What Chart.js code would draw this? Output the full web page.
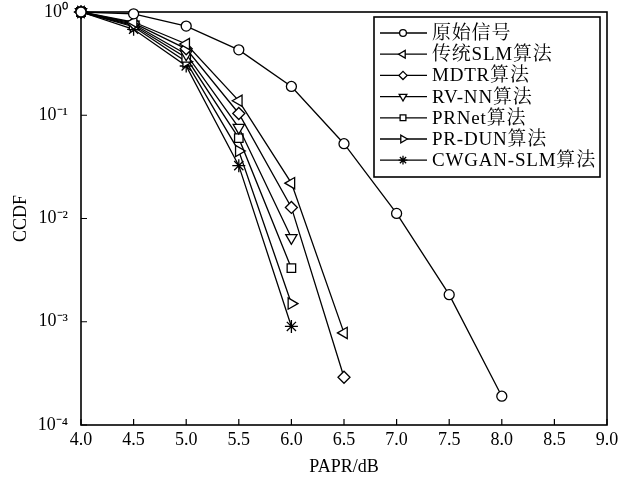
<!DOCTYPE html>
<html>
<head>
<meta charset="utf-8">
<script src="https://cdn.jsdelivr.net/npm/chart.js@4/dist/chart.umd.min.js"></script>
<style>
  body { margin: 0; background: #fff; }
</style>
</head>
<body>
<canvas id="ccdf" width="626" height="480"></canvas>
<script>
// PAPR (dB) points and CCDF values
var papr = [4.0, 4.5, 5.0, 5.5, 6.0, 6.5, 7.0, 7.5, 8.0];
var names = ['原始信号', '传统SLM算法', 'MDTR算法', 'RV-NN算法', 'PRNet算法', 'PR-DUN算法', 'CWGAN-SLM算法'];
var original = [1.0, 0.96, 0.73, 0.43, 0.19, 0.053, 0.0112, 0.00183, 0.00019];
var slm      = [1.0, 0.80, 0.49, 0.138, 0.022, 0.00078];
var mdtr     = [1.0, 0.78, 0.44, 0.104, 0.0128, 0.00029];
var rvnn     = [1.0, 0.76, 0.39, 0.076, 0.0065];
var prnet    = [1.0, 0.74, 0.36, 0.060, 0.0033];
var prdun    = [1.0, 0.72, 0.33, 0.045, 0.0015];
var cwgan    = [1.0, 0.68, 0.30, 0.0325, 0.0009];
var xTicks = [4.0, 4.5, 5.0, 5.5, 6.0, 6.5, 7.0, 7.5, 8.0, 8.5, 9.0];
var yTicks = [1e-4, 1e-3, 1e-2, 1e-1, 1];

var serif = "'Liberation Serif', 'Noto Serif CJK SC', 'Noto Sans CJK SC', serif";
var allSeries = [original, slm, mdtr, rvnn, prnet, prdun, cwgan];
var markers = [
  { style: 'circle',   rot: 0,   r: 5 },
  { style: 'triangle', rot: 270, r: 6.5 },
  { style: 'rectRot',  rot: 0,   r: 6 },
  { style: 'triangle', rot: 180, r: 6.5 },
  { style: 'rect',     rot: 0,   r: 6 },
  { style: 'triangle', rot: 90,  r: 6.5 },
  { style: 'star',     rot: 0,   r: 6.5 }
];

var sup = { '0': '⁰', '1': '¹', '2': '²', '3': '³', '4': '⁴', '-': '⁻' };
function powLabel(v) {
  var e = String(Math.round(Math.log10(v)));
  return '10' + e.split('').map(function (c) { return sup[c]; }).join('');
}

var datasets = allSeries.map(function (vals, i) {
  return {
    label: names[i],
    data: vals.map(function (v, j) { return { x: papr[j], y: v }; }),
    borderColor: '#000',
    borderWidth: 1.3,
    backgroundColor: '#fff',
    pointStyle: markers[i].style,
    pointRotation: markers[i].rot,
    pointRadius: markers[i].r,
    pointBorderWidth: 1.3,
    pointBorderColor: '#000',
    pointBackgroundColor: '#fff',
    tension: 0,
    fill: false,
    clip: false
  };
});

var frameLegend = {
  id: 'frameLegend',
  beforeDatasetsDraw: function (chart) {
    var ctx = chart.ctx, a = chart.chartArea;
    var xs = chart.scales.x, ys = chart.scales.y;
    ctx.save();
    ctx.strokeStyle = '#000';
    ctx.lineWidth = 1.6;
    ctx.strokeRect(a.left, a.top, a.right - a.left, a.bottom - a.top);
    ctx.lineWidth = 1.2;
    ctx.beginPath();
    xTicks.forEach(function (v) {
      var px = xs.getPixelForValue(v);
      ctx.moveTo(px, a.bottom);
      ctx.lineTo(px, a.bottom - 6);
    });
    yTicks.forEach(function (v) {
      var py = ys.getPixelForValue(v);
      ctx.moveTo(a.left, py);
      ctx.lineTo(a.left + 6, py);
    });
    ctx.stroke();
    ctx.restore();
  },
  afterDraw: function (chart) {
    var ctx = chart.ctx, a = chart.chartArea;
    var boxR = a.right - 7, boxT = a.top + 5, boxL = 374, boxB = 177;
    ctx.save();
    ctx.fillStyle = '#fff';
    ctx.fillRect(boxL, boxT, boxR - boxL, boxB - boxT);
    ctx.strokeStyle = '#000';
    ctx.lineWidth = 1.6;
    ctx.strokeRect(boxL, boxT, boxR - boxL, boxB - boxT);
    ctx.font = '19px ' + serif;
    if ('letterSpacing' in ctx) ctx.letterSpacing = '0.8px';
    ctx.textBaseline = 'middle';
    names.forEach(function (name, i) {
      var y = 33 + i * 21.2;
      ctx.lineWidth = 1.3;
      ctx.beginPath();
      ctx.moveTo(380, y);
      ctx.lineTo(427, y);
      ctx.stroke();
      ctx.fillStyle = '#fff';
      Chart.helpers.drawPoint(ctx, {
        pointStyle: markers[i].style,
        rotation: markers[i].rot,
        radius: markers[i].r * 0.68,
        borderWidth: 1.2
      }, 403, y);
      ctx.fillStyle = '#000';
      ctx.fillText(name, 432, y + 1);
    });
    ctx.restore();
  }
};

new Chart(document.getElementById('ccdf'), {
  type: 'line',
  data: { datasets: datasets },
  options: {
    responsive: false,
    animation: false,
    layout: { autoPadding: false, padding: { left: 0, top: 12, right: 19, bottom: 0 } },
    plugins: { legend: { display: false }, tooltip: { enabled: false } },
    scales: {
      x: {
        type: 'linear',
        min: 4,
        max: 9,
        afterBuildTicks: function (s) { s.ticks = xTicks.map(function (v) { return { value: v }; }); },
        afterFit: function (s) { s.height = 55; s.paddingLeft = 0; s.paddingRight = 0; },
        grid: { display: false, drawTicks: false },
        border: { display: false },
        ticks: {
          padding: 4,
          color: '#000',
          font: { family: serif, size: 18 },
          maxRotation: 0,
          callback: function (v) { return v.toFixed(1); }
        },
        title: {
          display: true,
          text: 'PAPR/dB',
          color: '#000',
          font: { family: serif, size: 18 },
          padding: { top: 0, bottom: 2 }
        }
      },
      y: {
        type: 'logarithmic',
        min: 1e-4,
        max: 1,
        afterBuildTicks: function (s) { s.ticks = yTicks.map(function (v) { return { value: v }; }); },
        afterFit: function (s) { s.width = 81; s.paddingTop = 0; s.paddingBottom = 0; },
        grid: { display: false, drawTicks: false },
        border: { display: false },
        ticks: {
          padding: 13,
          color: '#000',
          font: { family: serif, size: 18 },
          callback: function (v) { return powLabel(v); }
        },
        title: {
          display: true,
          text: 'CCDF',
          color: '#000',
          font: { family: serif, size: 18 },
          padding: { top: 10, bottom: 0 }
        }
      }
    }
  },
  plugins: [frameLegend]
});
</script>
</body>
</html>
